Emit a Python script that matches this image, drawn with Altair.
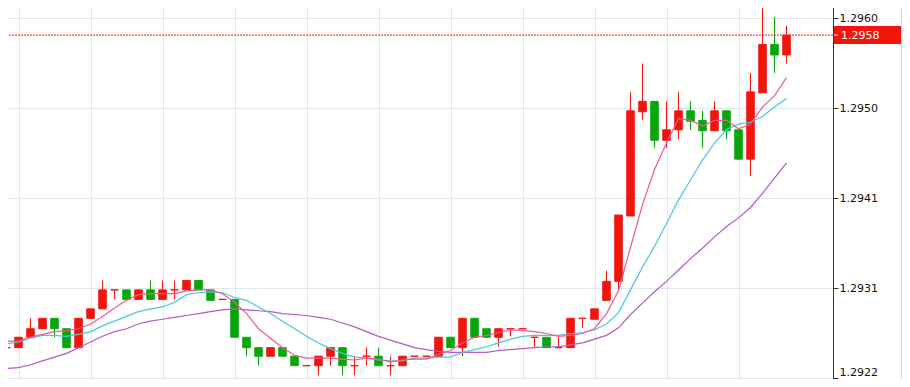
import altair as alt
import pandas as pd

# ---- data (one entry per candle) ----
opens = [1.29249, 1.29249, 1.29260, 1.29269, 1.29280, 1.29269, 1.29249, 1.29280, 1.29290, 1.29310,
         1.29310, 1.29300, 1.29310, 1.29300, 1.29310, 1.29310, 1.29320, 1.29310, 1.29300, 1.29300,
         1.29260, 1.29249, 1.29240, 1.29249, 1.29240, 1.29230, 1.29230, 1.29240, 1.29249, 1.29230,
         1.29240, 1.29240, 1.29230, 1.29230, 1.29240, 1.29240, 1.29240, 1.29260, 1.29249, 1.29280,
         1.29269, 1.29260, 1.29269, 1.29269, 1.29260, 1.29260, 1.29249, 1.29249, 1.29280, 1.29279,
         1.29299, 1.29319, 1.29388, 1.29498, 1.29509, 1.29468, 1.29479, 1.29499, 1.29489, 1.29478,
         1.29499, 1.29479, 1.29448, 1.29518, 1.29569, 1.29558]
highs = [1.29249, 1.29260, 1.29280, 1.29280, 1.29280, 1.29269, 1.29280, 1.29290, 1.29320, 1.29310,
         1.29310, 1.29310, 1.29320, 1.29320, 1.29320, 1.29320, 1.29320, 1.29310, 1.29300, 1.29300,
         1.29260, 1.29249, 1.29249, 1.29249, 1.29240, 1.29230, 1.29240, 1.29249, 1.29249, 1.29240,
         1.29249, 1.29249, 1.29240, 1.29240, 1.29240, 1.29240, 1.29260, 1.29260, 1.29280, 1.29280,
         1.29269, 1.29269, 1.29269, 1.29269, 1.29260, 1.29260, 1.29260, 1.29280, 1.29280, 1.29290,
         1.29330, 1.29389, 1.29519, 1.29549, 1.29509, 1.29509, 1.29519, 1.29509, 1.29499, 1.29509,
         1.29499, 1.29479, 1.29539, 1.29609, 1.29598, 1.29589]
lows = [1.29240, 1.29249, 1.29260, 1.29269, 1.29260, 1.29249, 1.29249, 1.29280, 1.29290, 1.29300,
        1.29300, 1.29300, 1.29300, 1.29300, 1.29300, 1.29310, 1.29310, 1.29299, 1.29300, 1.29260,
        1.29240, 1.29230, 1.29240, 1.29240, 1.29230, 1.29230, 1.29220, 1.29230, 1.29220, 1.29220,
        1.29230, 1.29230, 1.29220, 1.29230, 1.29240, 1.29240, 1.29240, 1.29249, 1.29240, 1.29260,
        1.29260, 1.29250, 1.29261, 1.29269, 1.29250, 1.29249, 1.29249, 1.29249, 1.29270, 1.29279,
        1.29299, 1.29310, 1.29388, 1.29489, 1.29460, 1.29460, 1.29469, 1.29479, 1.29460, 1.29478,
        1.29469, 1.29448, 1.29430, 1.29518, 1.29539, 1.29549]
closes = [1.29249, 1.29260, 1.29269, 1.29280, 1.29269, 1.29249, 1.29280, 1.29290, 1.29310, 1.29310,
          1.29300, 1.29310, 1.29300, 1.29310, 1.29310, 1.29320, 1.29310, 1.29299, 1.29300, 1.29260,
          1.29249, 1.29240, 1.29249, 1.29240, 1.29230, 1.29230, 1.29240, 1.29249, 1.29230, 1.29230,
          1.29240, 1.29230, 1.29230, 1.29240, 1.29240, 1.29240, 1.29260, 1.29249, 1.29280, 1.29260,
          1.29260, 1.29269, 1.29269, 1.29269, 1.29260, 1.29249, 1.29249, 1.29280, 1.29280, 1.29290,
          1.29319, 1.29389, 1.29499, 1.29509, 1.29468, 1.29479, 1.29499, 1.29488, 1.29478, 1.29499,
          1.29478, 1.29448, 1.29519, 1.29569, 1.29558, 1.29579]

ma_pink = [1.29256, 1.29256, 1.29260, 1.29263, 1.29266, 1.29267, 1.29269, 1.29274, 1.29282, 1.29291,
           1.29299, 1.29305, 1.29306, 1.29306, 1.29306, 1.29309, 1.29310, 1.29310, 1.29306, 1.29297,
           1.29285, 1.29269, 1.29259, 1.29249, 1.29241, 1.29238, 1.29238, 1.29238, 1.29237, 1.29236,
           1.29238, 1.29237, 1.29234, 1.29236, 1.29237, 1.29237, 1.29242, 1.29246, 1.29254, 1.29260,
           1.29262, 1.29265, 1.29268, 1.29267, 1.29266, 1.29264, 1.29261, 1.29262, 1.29264, 1.29269,
           1.29285, 1.29309, 1.29355, 1.29400, 1.29437, 1.29465, 1.29491, 1.29489, 1.29483, 1.29489,
           1.29489, 1.29480, 1.29485, 1.29503, 1.29515, 1.29534]
ma_cyan = [1.29253, 1.29255, 1.29259, 1.29262, 1.29262, 1.29261, 1.29263, 1.29266, 1.29272, 1.29277,
           1.29282, 1.29287, 1.29290, 1.29292, 1.29297, 1.29305, 1.29307, 1.29308, 1.29307, 1.29302,
           1.29299, 1.29292, 1.29285, 1.29277, 1.29269, 1.29261, 1.29254, 1.29248, 1.29243, 1.29239,
           1.29238, 1.29236, 1.29235, 1.29235, 1.29238, 1.29238, 1.29239, 1.29239, 1.29244, 1.29247,
           1.29250, 1.29254, 1.29258, 1.29261, 1.29262, 1.29262, 1.29262, 1.29264, 1.29265, 1.29268,
           1.29274, 1.29286, 1.29310, 1.29334, 1.29356, 1.29380, 1.29405, 1.29426, 1.29447, 1.29465,
           1.29479, 1.29485, 1.29487, 1.29493, 1.29503, 1.29512]
ma_purple = [1.29227, 1.29228, 1.29231, 1.29235, 1.29239, 1.29243, 1.29249, 1.29255, 1.29261, 1.29266,
             1.29269, 1.29274, 1.29277, 1.29279, 1.29281, 1.29283, 1.29285, 1.29287, 1.29289, 1.29290,
             1.29289, 1.29288, 1.29287, 1.29285, 1.29284, 1.29283, 1.29281, 1.29279, 1.29275, 1.29271,
             1.29266, 1.29261, 1.29257, 1.29253, 1.29249, 1.29247, 1.29245, 1.29244, 1.29244, 1.29244,
             1.29244, 1.29246, 1.29247, 1.29248, 1.29249, 1.29250, 1.29250, 1.29252, 1.29254, 1.29258,
             1.29262, 1.29270, 1.29284, 1.29296, 1.29308, 1.29319, 1.29331, 1.29343, 1.29354, 1.29366,
             1.29377, 1.29386, 1.29397, 1.29412, 1.29428, 1.29444]

y_tick_values = [1.29217, 1.29312, 1.29407, 1.29502, 1.29597]
x_grid_values = [1, 7, 13, 19, 25, 31, 37, 43, 49, 55, 61]

RED = "#f2150b"
GREEN = "#08a60b"
PINK = "#ec5b90"
CYAN = "#45c9df"
PURPLE = "#b35ac6"
GRID = "#dfe8f1"

n = len(closes)
candles = pd.DataFrame({
    "i": list(range(n)),
    "open": opens, "high": highs, "low": lows, "close": closes,
    "dir": ["up" if c >= o else "down" for o, c in zip(opens, closes)],
})
mas = pd.DataFrame({"i": list(range(n)), "pink": ma_pink, "cyan": ma_cyan, "purple": ma_purple})
last = pd.DataFrame({"close": [closes[-1]]})

x_scale = alt.Scale(domain=[-0.54167, 68.875], nice=False, zero=False, padding=0)
y_scale = alt.Scale(domain=[1.2921594, 1.2961602], nice=False, zero=False, padding=0)
dir_scale = alt.Scale(domain=["up", "down"], range=[RED, GREEN])

x_enc = alt.X("i:Q", scale=x_scale,
              axis=alt.Axis(values=x_grid_values, labels=False, ticks=False, domain=False,
                            grid=True, gridColor=GRID, gridWidth=1, title=None))
y_axis = alt.Axis(orient="right", values=y_tick_values, format=".4f", grid=True, gridColor=GRID,
                  gridWidth=1, domainColor="#333333", domainWidth=1, tickColor="#333333",
                  tickSize=5, tickWidth=1, labelPadding=1, labelFont="DejaVu Sans",
                  labelFontSize=11, labelColor="#111111", title=None,
                  labelBaseline={"condition": {"test": "datum.value < 1.2922", "value": "bottom"},
                                 "value": "middle"})

base = alt.Chart(candles)
wicks = base.mark_rule(strokeWidth=1, clip=True).encode(
    x=x_enc,
    y=alt.Y("low:Q", scale=y_scale, axis=y_axis),
    y2="high:Q",
    color=alt.Color("dir:N", scale=dir_scale, legend=None),
)
bodies = base.mark_bar(size=7.5, strokeWidth=1, clip=True).encode(
    x=alt.X("i:Q", scale=x_scale),
    y=alt.Y("open:Q", scale=y_scale),
    y2="close:Q",
    fill=alt.Fill("dir:N", scale=dir_scale, legend=None),
    stroke=alt.Stroke("dir:N", scale=dir_scale, legend=None),
)

def ma_line(field, colour):
    return alt.Chart(mas).mark_line(color=colour, strokeWidth=1.2, clip=True).encode(
        x=alt.X("i:Q", scale=x_scale),
        y=alt.Y(f"{field}:Q", scale=y_scale),
    )

lines = [ma_line("purple", PURPLE), ma_line("cyan", CYAN), ma_line("pink", PINK)]

lb = alt.Chart(last)
price_line = lb.mark_rule(color=RED, strokeDash=[2, 1], strokeWidth=1).encode(
    y=alt.Y("close:Q", scale=y_scale), x=alt.value(3), x2=alt.value(833))
tag_box = lb.mark_rule(color=RED, strokeWidth=18).encode(
    y=alt.Y("close:Q", scale=y_scale), x=alt.value(834), x2=alt.value(901))
tag_tick = lb.mark_rule(color="white", strokeWidth=1).encode(
    y=alt.Y("close:Q", scale=y_scale), x=alt.value(834), x2=alt.value(838))
tag_text = lb.mark_text(align="left", baseline="middle", color="white", font="DejaVu Sans",
                        fontSize=11, dy=1).encode(
    y=alt.Y("close:Q", scale=y_scale), x=alt.value(841),
    text=alt.Text("close:Q", format=".4f"))
left_border = lb.mark_rule(color="#d8d8d8", strokeWidth=1).encode(
    x=alt.value(3.5), y=alt.value(0), y2=alt.value(379))
right_border = lb.mark_rule(color="#d8d8d8", strokeWidth=1).encode(
    x=alt.value(901.5), y=alt.value(0), y2=alt.value(379))

chart = alt.layer(
    wicks, bodies, *lines, price_line, tag_box, tag_tick, tag_text, left_border, right_border
).properties(
    width=833, height=379,
    padding={"left": -8, "top": -8, "right": 69, "bottom": 0},
    autosize=alt.AutoSizeParams(type="none"),
    background="white",
).configure_view(stroke=None)

chart.save("out.html", embed_options={"renderer": "svg", "actions": False})
